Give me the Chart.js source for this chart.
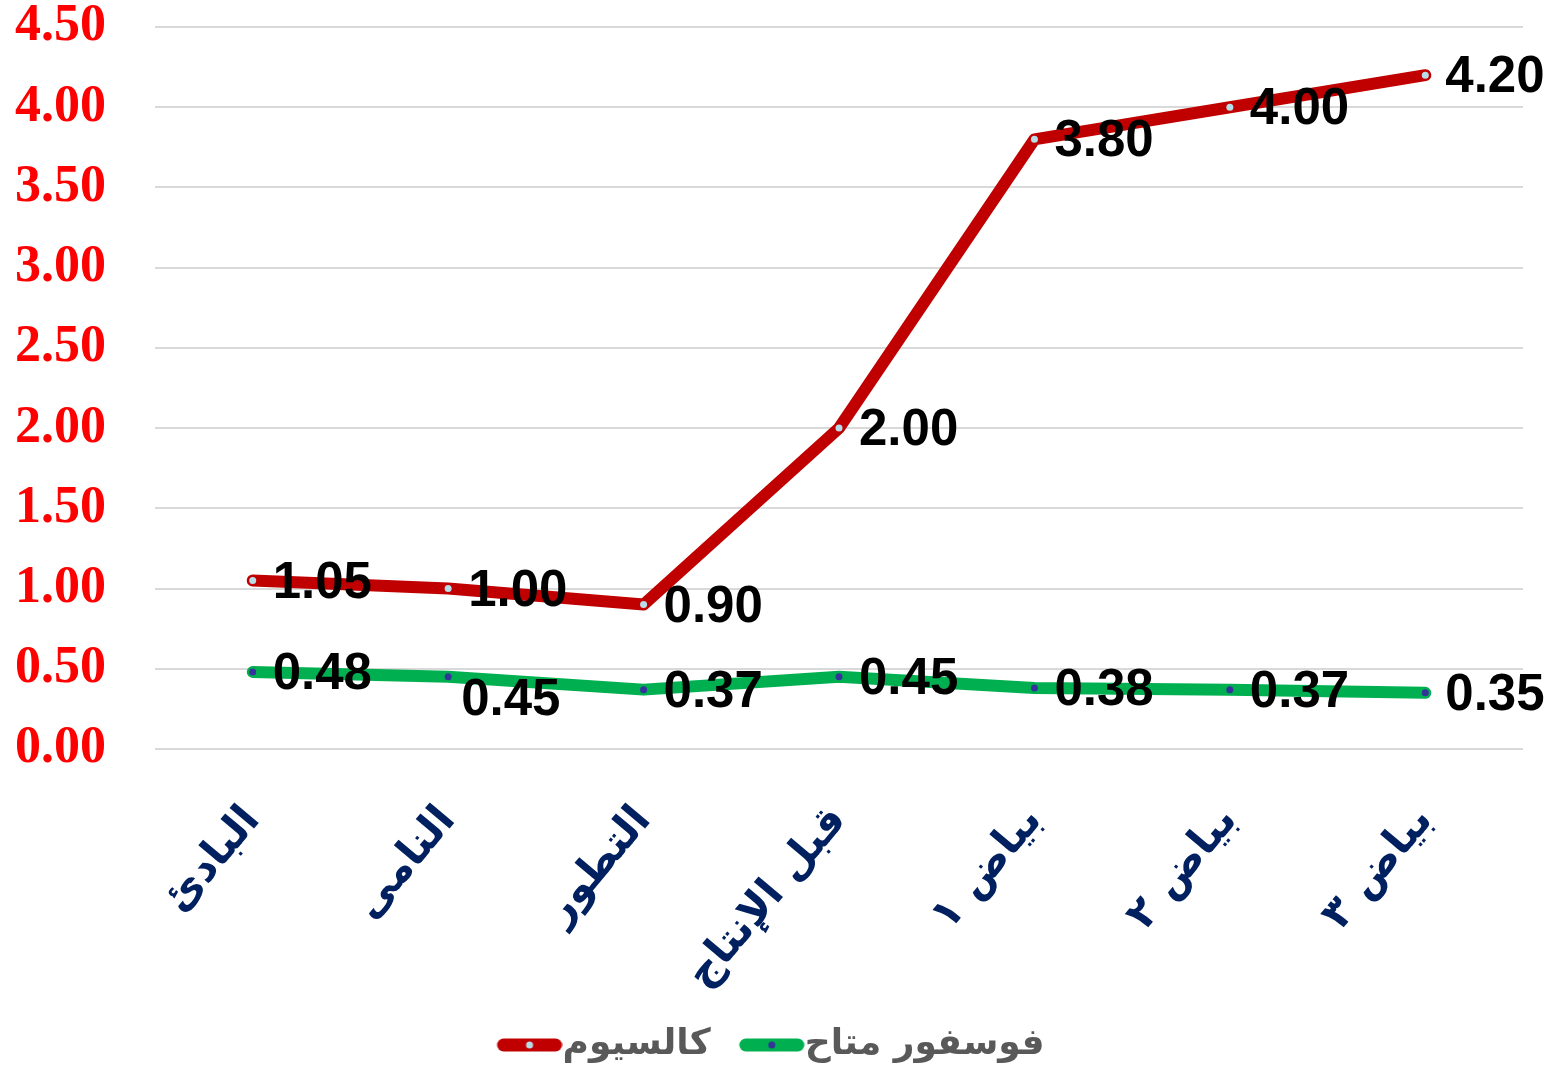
<!DOCTYPE html>
<html lang="ar">
<head>
<meta charset="utf-8">
<title>كالسيوم و فوسفور متاح</title>
<script src="https://cdn.jsdelivr.net/npm/chart.js@4.4.1/dist/chart.umd.min.js"></script>
<style>
  html, body { margin: 0; padding: 0; background: #fff; }
  #wrap { width: 1559px; height: 1075px; }
</style>
</head>
<body>
<div id="wrap"><canvas id="mineralChart"></canvas></div>
<script>
// growth stages on the x axis
const stages = ["البادئ", "النامى", "التطور", "قبل الإنتاج", "بياض ١", "بياض ٢", "بياض ٣"];
const calcium = [1.05, 1.00, 0.90, 2.00, 3.80, 4.00, 4.20];
const phosphorus = [0.48, 0.45, 0.37, 0.45, 0.38, 0.37, 0.35];
const seriesNames = ["كالسيوم", "فوسفور متاح"];
const yMin = 0, yMax = 4.5, yStep = 0.5;

const RED = '#c00000';
const GREEN = '#00b050';

// legend icon: thick line with a dot. The canvas is wider than the box so
// the line can sit right up against the text (Chart.js leaves fontSize/2 gap)
function legendSwatch(lineColor, dotColor) {
  const c = document.createElement('canvas');
  c.width = 102; c.height = 16;
  const g = c.getContext('2d');
  g.strokeStyle = lineColor;
  g.lineWidth = 13;
  g.lineCap = 'round';
  g.beginPath(); g.moveTo(43, 8); g.lineTo(95, 8); g.stroke();
  g.fillStyle = dotColor;
  g.beginPath(); g.arc(69, 8, 3.5, 0, Math.PI * 2); g.fill();
  return c;
}
const swatches = [legendSwatch(RED, '#b7dde8'), legendSwatch(GREEN, '#333399')];

// value text next to each point
const valueLabels = {
  id: 'valueLabels',
  afterDatasetsDraw(chart) {
    const ctx = chart.ctx;
    ctx.save();
    ctx.font = 'bold 51px "Liberation Sans", Arial, sans-serif';
    ctx.fillStyle = '#000';
    ctx.textAlign = 'left';
    ctx.textBaseline = 'middle';
    chart.data.datasets.forEach((ds, di) => {
      const meta = chart.getDatasetMeta(di);
      meta.data.forEach((pt, i) => {
        const shift = (ds.labelShift && ds.labelShift[i]) || [20, 3];
        ctx.fillText(ds.data[i].toFixed(2), pt.x + shift[0], pt.y + shift[1]);
      });
    });
    ctx.restore();
  }
};

new Chart(document.getElementById('mineralChart'), {
  type: 'line',
  data: {
    labels: stages,
    datasets: [
      {
        label: seriesNames[0],
        data: calcium,
        borderColor: RED,
        borderWidth: 12,
        borderCapStyle: 'round',
        borderJoinStyle: 'round',
        tension: 0,
        pointRadius: 3.5,
        pointBorderWidth: 0,
        pointBackgroundColor: '#b7dde8',
        pointBorderColor: '#b7dde8'
      },
      {
        label: seriesNames[1],
        data: phosphorus,
        borderColor: GREEN,
        borderWidth: 12,
        borderCapStyle: 'round',
        borderJoinStyle: 'round',
        tension: 0,
        pointRadius: 3.5,
        pointBorderWidth: 0,
        pointBackgroundColor: '#333399',
        pointBorderColor: '#333399',
        labelShift: { 1: [13, 24] }
      }
    ]
  },
  options: {
    responsive: true,
    maintainAspectRatio: false,
    animation: false,
    layout: { padding: { top: 27, right: 36, left: 0, bottom: 2 } },
    scales: {
      x: {
        offset: true,
        grid: { display: false },
        border: { display: false },
        afterFit(scale) { scale.height = 268; },
        ticks: {
          color: '#002060',
          minRotation: 50,
          maxRotation: 50,
          padding: 40,
          font: { family: '"DejaVu Sans", sans-serif', size: 42, weight: 'bold' }
        }
      },
      y: {
        min: yMin,
        max: yMax,
        border: { display: false },
        grid: { color: '#d9d9d9', lineWidth: 2, drawTicks: false },
        afterFit(scale) {
          scale.width = 155;
          scale.paddingTop = 0;
          scale.paddingBottom = 0;
        },
        ticks: {
          stepSize: yStep,
          color: '#ff0000',
          padding: 49,
          font: { family: '"Liberation Serif", "Times New Roman", serif', size: 52, weight: 'bold', lineHeight: 1 },
          callback: v => Number(v).toFixed(2)
        }
      }
    },
    plugins: {
      tooltip: { enabled: false },
      legend: {
        position: 'bottom',
        labels: {
          color: '#595959',
          usePointStyle: true,
          pointStyleWidth: 66,
          padding: 10,
          font: { family: '"DejaVu Sans", sans-serif', size: 36, weight: 'bold' },
          generateLabels(chart) {
            const items = Chart.defaults.plugins.legend.labels.generateLabels(chart);
            items.forEach((it, i) => { it.pointStyle = swatches[i]; });
            return items;
          }
        }
      }
    }
  },
  plugins: [valueLabels]
});
</script>
</body>
</html>
